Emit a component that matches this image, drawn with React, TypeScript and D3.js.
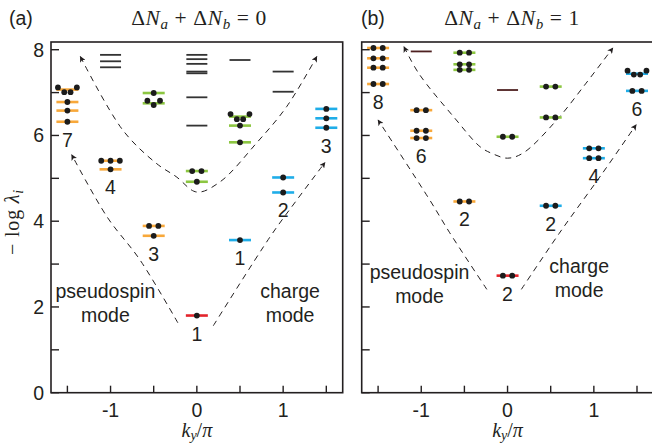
import React from "react";
import * as d3 from "d3";

// tick values
const kTicks = [-1.5, -1, -0.5, 0, 0.5, 1, 1.5];
const kTickLabels = [-1, 0, 1];
const vTicks = [0, 1, 2, 3, 4, 5, 6, 7, 8];
const vTickLabels = [0, 2, 4, 6, 8];

type Lvl = { k: number; v: number; n?: number; d?: number[] };

// panel (a): dN_a + dN_b = 0
const blackA: Lvl[] = [
  { k: -1, v: 7.88 }, { k: -1, v: 7.73 }, { k: -1, v: 7.59 },
  { k: 0, v: 7.88 }, { k: 0, v: 7.78 }, { k: 0, v: 7.67 }, { k: 0, v: 7.49 },
  { k: 0, v: 7.45 }, { k: 0, v: 6.89 }, { k: 0, v: 6.23 },
  { k: 0.5, v: 7.76 },
  { k: 1, v: 7.49 }, { k: 1, v: 7.02 },
];
const orangeA: Lvl[] = [
  { k: -1.5, v: 7.07, d: [7.12, 7.01, 7.01, 7.12] },
  { k: -1.5, v: 6.78, n: 1 }, { k: -1.5, v: 6.58, n: 1 }, { k: -1.5, v: 6.32, n: 1 },
  { k: -1, v: 5.41, n: 3 }, { k: -1, v: 5.21, n: 1 },
  { k: -0.5, v: 3.89, n: 2 }, { k: -0.5, v: 3.66, n: 1 },
];
const greenA: Lvl[] = [
  { k: -0.5, v: 6.99, n: 1 }, { k: -0.5, v: 6.75, d: [6.81, 6.71, 6.81] },
  { k: 0, v: 5.17, n: 2 }, { k: 0, v: 4.92, n: 1 },
  { k: 0.5, v: 6.44, d: [6.5, 6.38, 6.38, 6.5] }, { k: 0.5, v: 6.23, n: 1 }, { k: 0.5, v: 5.84, n: 1 },
];
const blueA: Lvl[] = [
  { k: 0.5, v: 3.56, n: 1 },
  { k: 1, v: 5.02, n: 1 }, { k: 1, v: 4.67, n: 1 },
  { k: 1.5, v: 6.62, n: 1 }, { k: 1.5, v: 6.4, n: 1 }, { k: 1.5, v: 6.18, n: 1 },
];
const redA: Lvl[] = [{ k: 0, v: 1.8, n: 1 }];
const labelsA: [string, number][] = [
  ["orange", -1.5], ["orange", -1], ["orange", -0.5], ["red", 0],
  ["blue", 0.5], ["blue", 1], ["blue", 1.5],
];
const lowerLeftA = [[-0.22, 1.63], [-0.66, 3.1], [-1.04, 4.1], [-1.45, 5.55]];
const lowerRightA = [[0.19, 1.56], [0.85, 3.64], [1.16, 4.5], [1.485, 5.37]];
const upperA = [
  [-1.35, 7.84], [-0.86, 6.13], [-0.47, 5.35], [-0.24, 5.04], [0, 4.68],
  [0.27, 4.92], [0.69, 5.82], [1.04, 6.67], [1.39, 7.84],
];

// panel (b): dN_a + dN_b = 1
const blackB: Lvl[] = [{ k: -1, v: 7.96 }, { k: 0, v: 7.06 }];
const orangeB: Lvl[] = [
  { k: -1.5, v: 8.04, n: 2 }, { k: -1.5, v: 7.8, n: 2 }, { k: -1.5, v: 7.58, n: 2 }, { k: -1.5, v: 7.2, n: 2 },
  { k: -1, v: 6.59, n: 2 }, { k: -1, v: 6.11, n: 2 }, { k: -1, v: 5.94, n: 2 },
  { k: -0.5, v: 4.46, n: 2 },
];
const greenB: Lvl[] = [
  { k: -0.5, v: 7.93, n: 2 }, { k: -0.5, v: 7.66, n: 2 }, { k: -0.5, v: 7.53, n: 2 },
  { k: 0, v: 5.97, n: 2 },
  { k: 0.5, v: 7.14, n: 2 }, { k: 0.5, v: 6.42, n: 2 },
];
const blueB: Lvl[] = [
  { k: 0.5, v: 4.36, n: 2 },
  { k: 1, v: 5.7, n: 2 }, { k: 1, v: 5.47, n: 2 },
  { k: 1.5, v: 7.44, d: [7.51, 7.42, 7.42, 7.51] }, { k: 1.5, v: 7.04, n: 2 },
];
const redB: Lvl[] = [{ k: 0, v: 2.73, n: 2 }];
const labelsB: [string, number][] = [
  ["orange", -1.5], ["orange", -1], ["orange", -0.5], ["red", 0],
  ["blue", 0.5], ["blue", 1], ["blue", 1.5],
];
const lowerLeftB = [[-0.24, 2.41], [-0.67, 3.73], [-0.9, 4.49], [-1.5, 6.36]];
const lowerRightB = [[0.16, 2.41], [0.6, 3.72], [1.1, 5.12], [1.49, 6.25]];
const upperB = [
  [-1.2, 8.07], [-1.03, 7.45], [-0.61, 6.4], [-0.32, 5.74], [-0.18, 5.58], [0, 5.47],
  [0.18, 5.59], [0.57, 6.36], [0.91, 7.22], [1.22, 8.04],
];

const COLORS: Record<string, string> = {
  orange: "#f8a83a",
  green: "#8cc641",
  blue: "#1fade8",
  red: "#e3242b",
};

const SANS = "'Liberation Sans', Arial, sans-serif";
const SERIF = "'Liberation Serif', 'Times New Roman', serif";
const INK = "#231f20";

const TOP = 42;
const BOTTOM = 392.7;

function Panel({ left, right, lineColor, lines, groups, labels, guides, yLabels, notes }: any) {
  const x = d3.scaleLinear().domain([-1.69, 1.69]).range([left, right]);
  const y = d3.scaleLinear().domain([0, 8.18]).range([BOTTOM, TOP]);
  const path = d3
    .line<number[]>()
    .x((d) => x(d[0]))
    .y((d) => y(d[1]))
    .curve(d3.curveCatmullRom.alpha(0.5));

  const dotsOf = (l: Lvl) => l.d ?? Array(l.n ?? 0).fill(l.v);

  return (
    <g>
      {/* dashed guide curves */}
      {guides.map((g: any, i: number) => (
        <path
          key={"g" + i}
          d={path(g.pts) as string}
          fill="none"
          stroke={INK}
          strokeWidth={1}
          strokeDasharray="6,5"
          markerEnd="url(#ah)"
          markerStart={g.both ? "url(#ah)" : undefined}
        />
      ))}
      {/* plain levels */}
      {lines.map((l: Lvl, i: number) => (
        <line
          key={"l" + i}
          x1={x(l.k) - 10.5}
          x2={x(l.k) + 10.5}
          y1={y(l.v)}
          y2={y(l.v)}
          stroke={lineColor}
          strokeWidth={1.8}
        />
      ))}
      {/* coloured levels with dots */}
      {groups.map(([c, lvls]: [string, Lvl[]]) =>
        lvls.map((l, i) => {
          const ds = dotsOf(l);
          const same = ds.every((v) => v === ds[0]);
          const sp = same ? 9.3 : 6.3;
          return (
            <g key={c + i}>
              <line
                x1={x(l.k) - 11}
                x2={x(l.k) + 11}
                y1={y(l.v)}
                y2={y(l.v)}
                stroke={COLORS[c]}
                strokeWidth={2.6}
              />
              {ds.map((v, j) => (
                <circle
                  key={j}
                  cx={x(l.k) + (j - (ds.length - 1) / 2) * sp}
                  cy={y(v)}
                  r={2.9}
                  fill="#1c1c1c"
                />
              ))}
            </g>
          );
        })
      )}
      {/* degeneracy labels */}
      {labels.map(([c, k]: [string, number], i: number) => {
        const lv = groups.find((g: any) => g[0] === c)[1].filter((l: Lvl) => l.k === k);
        const n = d3.sum(lv, (l: Lvl) => dotsOf(l).length);
        const lo = d3.min(lv, (l: Lvl) => d3.min(dotsOf(l))) as number;
        return (
          <text key={"t" + i} x={x(k)} y={y(lo) + 25} textAnchor="middle" fontFamily={SANS} fontSize={19.5} fill={INK}>
            {n}
          </text>
        );
      })}
      {notes.map((t: any, i: number) => (
        <text key={"n" + i} x={x(t.k)} y={y(t.v)} textAnchor="middle" fontFamily={SANS} fontSize={19.5} fill={INK}>
          {t.lines.map((s: string, j: number) => (
            <tspan key={j} x={x(t.k)} dy={j === 0 ? "0.35em" : 24}>
              {s}
            </tspan>
          ))}
        </text>
      ))}
      {/* frame */}
      <rect x={left} y={TOP} width={right - left} height={BOTTOM - TOP} fill="none" stroke={INK} strokeWidth={1.6} />
      {vTicks.map((t) => (
        <line key={"yt" + t} x1={left} x2={left + 8} y1={y(t)} y2={y(t)} stroke={INK} strokeWidth={1.4} />
      ))}
      {kTicks.map((t) => (
        <line key={"xt" + t} x1={x(t)} x2={x(t)} y1={BOTTOM} y2={BOTTOM - 7} stroke={INK} strokeWidth={1.4} />
      ))}
      {yLabels &&
        vTickLabels.map((t) => (
          <text key={"yl" + t} x={left - 7} y={y(t)} dy="0.35em" textAnchor="end" fontFamily={SANS} fontSize={19.5} fill={INK}>
            {t}
          </text>
        ))}
      {kTickLabels.map((t) => (
        <text key={"xl" + t} x={x(t)} y={417} textAnchor="middle" fontFamily={SANS} fontSize={19.5} fill={INK}>
          {t}
        </text>
      ))}
      <text x={x(0)} y={437} textAnchor="middle" fontFamily={SERIF} fontSize={20} fill={INK}>
        <tspan fontStyle="italic">k</tspan>
        <tspan dy={3} fontSize={14} fontStyle="italic">y</tspan>
        <tspan dy={-3}>/</tspan>
        <tspan fontStyle="italic">π</tspan>
      </text>
    </g>
  );
}

function Title({ x, n }: { x: number; n: number }) {
  return (
    <text x={x} y={25} textAnchor="middle" fontFamily={SERIF} fontSize={21.5} fill={INK} letterSpacing={0.6}>
      <tspan>Δ</tspan>
      <tspan fontStyle="italic">N</tspan>
      <tspan dy={4} fontSize={15} fontStyle="italic">a</tspan>
      <tspan dy={-4}>{"  +  Δ"}</tspan>
      <tspan fontStyle="italic">N</tspan>
      <tspan dy={4} fontSize={15} fontStyle="italic">b</tspan>
      <tspan dy={-4}>{"  =  " + n}</tspan>
    </text>
  );
}

export default function App() {
  return (
    <svg width={652} height={443} style={{ position: "absolute", left: 0, top: 0, background: "#fff" }}>
      <defs>
        <marker
          id="ah"
          viewBox="0 0 10 10"
          refX={9}
          refY={5}
          markerWidth={7}
          markerHeight={6}
          markerUnits="userSpaceOnUse"
          orient="auto-start-reverse"
        >
          <path d="M0,0 L10,5 L0,10 L2.5,5 z" fill={INK} />
        </marker>
      </defs>
      <text x={9} y={25} fontFamily={SANS} fontSize={19.5} fill={INK}>(a)</text>
      <text x={361} y={25} fontFamily={SANS} fontSize={19.5} fill={INK}>(b)</text>
      <Title x={199} n={0} />
      <Title x={512} n={1} />
      <text transform="translate(19,222) rotate(-90)" textAnchor="middle" fontFamily={SERIF} fontSize={20} fill={INK} letterSpacing={0.8}>
        <tspan>{"− log "}</tspan>
        <tspan fontStyle="italic">λ</tspan>
        <tspan dy={4} fontSize={14} fontStyle="italic">i</tspan>
      </text>
      <Panel
        left={51}
        right={342.7}
        lineColor="#333333"
        lines={blackA}
        groups={[["orange", orangeA], ["green", greenA], ["blue", blueA], ["red", redA]]}
        labels={labelsA}
        guides={[{ pts: lowerLeftA }, { pts: lowerRightA }, { pts: upperA, both: true }]}
        yLabels
        notes={[
          { k: -1.06, v: 2.36, lines: ["pseudospin", "mode"] },
          { k: 1.08, v: 2.36, lines: ["charge", "mode"] },
        ]}
      />
      <Panel
        left={361.7}
        right={653.4}
        lineColor="#4e2020"
        lines={blackB}
        groups={[["orange", orangeB], ["green", greenB], ["blue", blueB], ["red", redB]]}
        labels={labelsB}
        guides={[{ pts: lowerLeftB }, { pts: lowerRightB }, { pts: upperB, both: true }]}
        yLabels={false}
        notes={[
          { k: -1.02, v: 2.82, lines: ["pseudospin", "mode"] },
          { k: 0.83, v: 2.94, lines: ["charge", "mode"] },
        ]}
      />
    </svg>
  );
}
